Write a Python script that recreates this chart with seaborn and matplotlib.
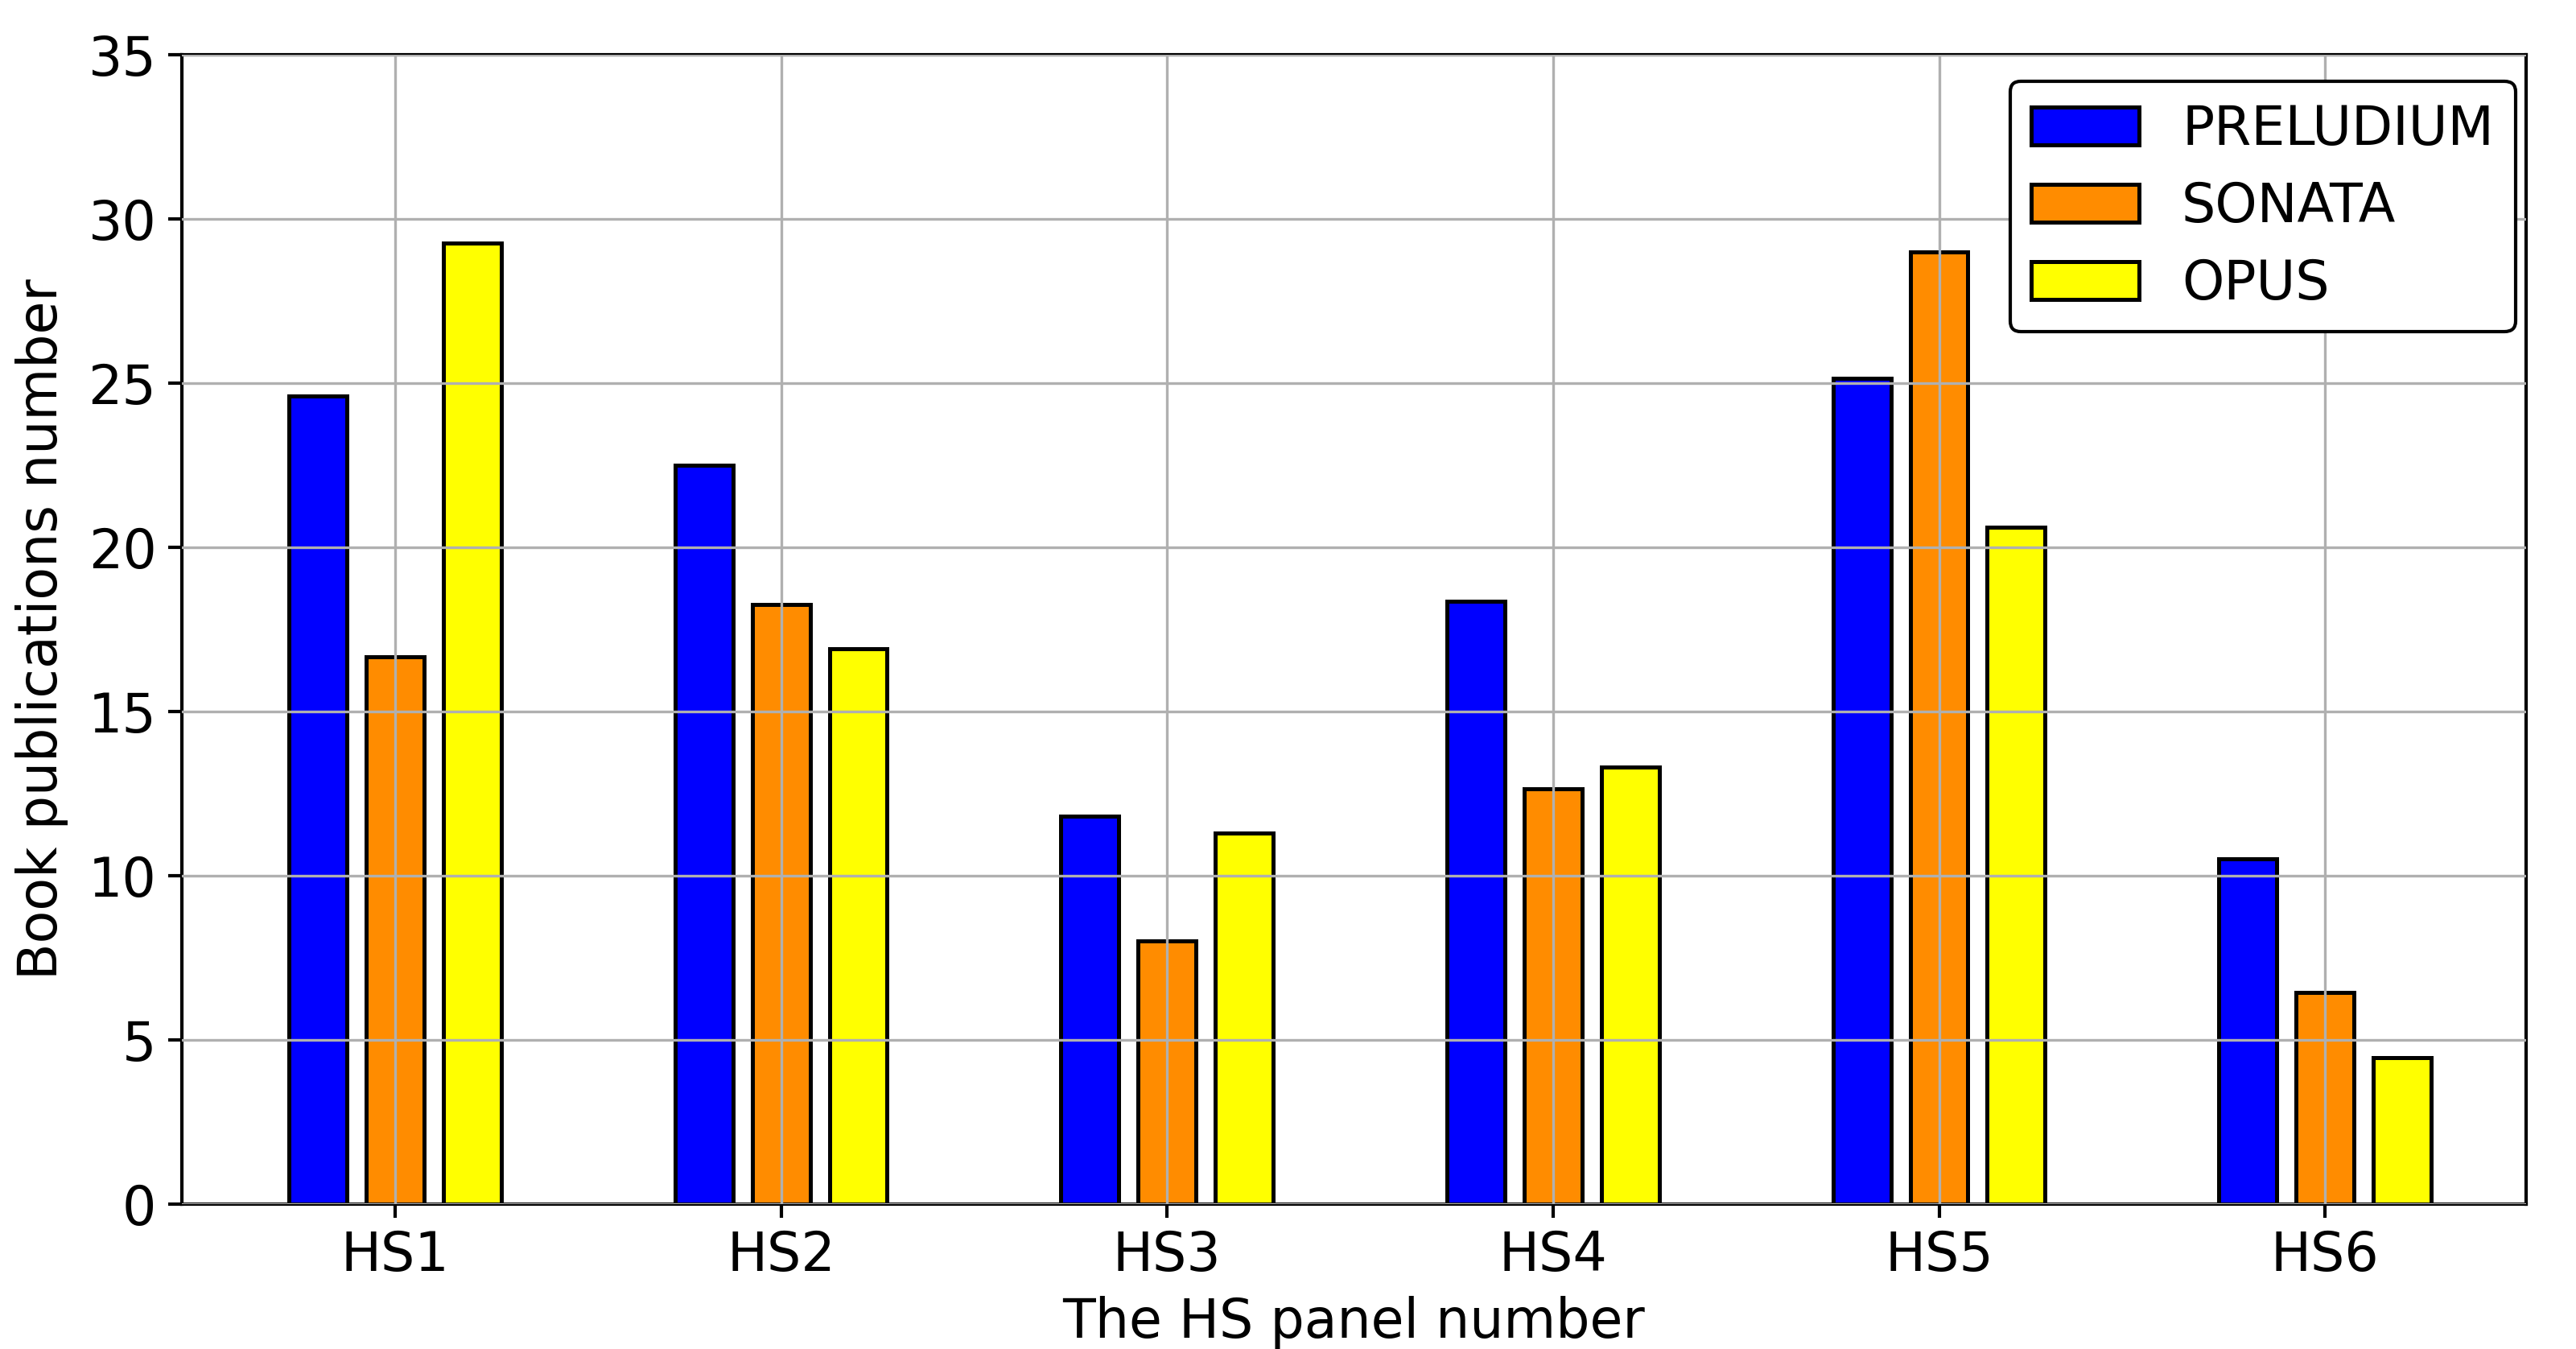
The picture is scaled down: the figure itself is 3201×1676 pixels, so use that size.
import pandas as pd
import matplotlib
matplotlib.use("Agg")
import matplotlib.pyplot as plt
import seaborn as sns

# values
panels = ["HS1", "HS2", "HS3", "HS4", "HS5", "HS6"]
series = ["PRELUDIUM", "SONATA", "OPUS"]
preludium = [24.6, 22.5, 11.8, 18.35, 25.15, 10.5]
sonata = [16.65, 18.25, 8.0, 12.65, 29.0, 6.45]
opus = [29.25, 16.9, 11.3, 13.3, 20.6, 4.45]
colors = ["blue", "darkorange", "yellow"]

df = pd.DataFrame({
    "panel": panels * 3,
    "program": [s for s in series for _ in panels],
    "count": preludium + sonata + opus,
})

plt.rcParams["font.family"] = ["DejaVu Sans"]
plt.rcParams["font.size"] = 16

fig = plt.figure(figsize=(3201 / 300, 1676 / 300), dpi=300)
ax = fig.add_axes([0.0705, 0.1076, 0.910, 0.852])

sns.barplot(data=df, x="panel", y="count", hue="program", hue_order=series,
            palette=colors, width=0.6, gap=0.25, edgecolor="black",
            linewidth=1.2, saturation=1, ax=ax)

ax.set_xlim(-0.553, 5.52)
ax.set_ylim(0, 35)
ax.set_yticks(range(0, 36, 5))
ax.grid(True, color="#b0b0b0", linewidth=0.8)
ax.set_axisbelow(False)
for s in ax.spines.values():
    s.set_linewidth(1.0)
ax.tick_params(labelsize=16, width=1.0, length=4)
ax.set_xlabel("The HS panel number", fontsize=16)
ax.set_ylabel("Book publications number", fontsize=16, labelpad=6)

leg = ax.legend(loc="upper right", bbox_to_anchor=(1.007, 1.0), fontsize=16,
                fancybox=True, framealpha=1, edgecolor="black",
                handlelength=2.0, handletextpad=0.8, labelspacing=0.45)
leg.get_frame().set_linewidth(1.0)

fig.savefig("out.png", dpi=300)
